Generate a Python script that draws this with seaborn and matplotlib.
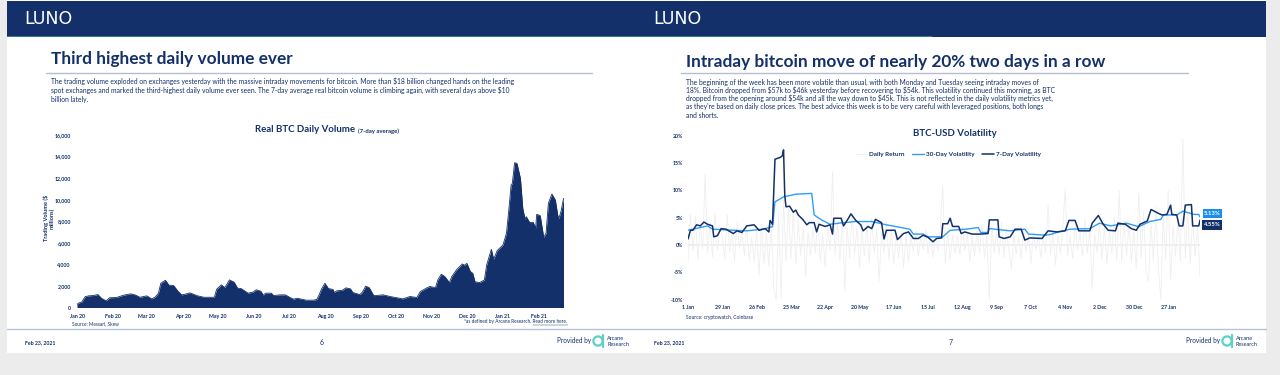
import pandas as pd
import matplotlib.pyplot as plt
import seaborn as sns
from matplotlib.patches import Circle, Rectangle

# Real BTC daily volume, days counted from 1 Jan 2020
volume_days = [0, 1, 4, 7, 10, 14, 18, 21, 25, 28, 34, 40, 46, 50, 54, 60, 64, 67, 70, 72, 76, 79, 83, 87, 90, 94, 97,
               103, 109, 118, 120, 124, 127, 131, 135, 138, 141, 147, 151, 154, 158, 160, 162, 167, 169, 174, 179,
               183, 186, 189, 193, 197, 203, 206, 208, 210, 213, 216, 220, 221, 223, 228, 231, 235, 237, 243, 245,
               248, 251, 255, 263, 269, 280, 286, 292, 295, 300, 303, 308, 310, 313, 316, 320, 322, 326, 331, 333,
               335, 338, 340, 342, 346, 350, 352, 356, 358, 361, 363, 366, 369, 371, 373, 374, 376, 378, 381, 383,
               385, 386, 389, 392, 394, 395, 398, 401, 403, 405, 408, 411, 413, 414, 416, 418]
volume_values = [250, 400, 500, 1000, 1080, 1110, 1200, 860, 620, 900, 930, 1140, 1265, 1170, 950, 1080, 800, 950,
                 1330, 2250, 2530, 2070, 2040, 1480, 1170, 1265, 1360, 1100, 950, 950, 1700, 2100, 1850, 2560, 2350,
                 1790, 1760, 1330, 1420, 1640, 1510, 1140, 1330, 1330, 1100, 1170, 1170, 930, 770, 860, 770, 680,
                 680, 740, 1170, 1700, 2250, 1760, 1670, 1390, 1540, 1600, 1820, 1730, 1390, 1200, 1390, 1975, 1850,
                 1100, 1170, 1020, 800, 1020, 930, 1480, 1790, 1945, 1850, 2560, 3085, 2870, 2315, 2870, 3490, 4040,
                 3920, 4100, 3330, 3180, 2380, 2315, 2560, 3950, 5400, 4475, 5280, 5490, 5800, 6880, 9040, 11360,
                 11500, 13430, 13370, 11975, 9200, 8180, 8430, 7870, 7900, 7350, 8640, 8520, 6510, 6880, 9660, 10525,
                 9970, 8580, 8240, 8980, 10120]
month_dates = ['2020-01-01', '2020-02-01', '2020-03-01', '2020-04-01', '2020-05-01', '2020-06-01', '2020-07-01',
               '2020-08-01', '2020-09-01', '2020-10-01', '2020-11-01', '2020-12-01', '2021-01-01', '2021-02-01']
month_labels = ['Jan 20', 'Feb 20', 'Mar 20', 'Apr 20', 'May 20', 'Jun 20', 'Jul 20', 'Aug 20', 'Sep 20', 'Oct 20',
                'Nov 20', 'Dec 20', 'Jan 21', 'Feb 21']
volume_ticks = [0, 2000, 4000, 6000, 8000, 10000, 12000, 14000, 16000]

# BTC-USD volatility in percent
seven_days = [0, 2, 4, 7, 10, 13, 16, 20, 21, 24, 27, 31, 37, 40, 44, 48, 54, 58, 63, 66, 67, 69, 71, 75, 77, 78, 79,
              80, 83, 86, 88, 90, 94, 97, 99, 103, 105, 107, 112, 116, 118, 119, 125, 127, 131, 133, 137, 141, 143,
              147, 150, 153, 158, 160, 162, 169, 171, 176, 180, 184, 188, 192, 196, 200, 203, 207, 208, 212, 214,
              216, 221, 223, 226, 232, 238, 245, 246, 253, 254, 258, 263, 267, 272, 275, 279, 289, 294, 301, 308,
              311, 316, 319, 328, 330, 335, 339, 343, 349, 351, 357, 362, 366, 369, 375, 378, 384, 387, 391, 394,
              395, 399, 401, 404, 406, 411, 412, 417, 418]
seven_values = [1.1, 2.7, 2.7, 3.7, 3.5, 4.2, 3.8, 3.5, 1.5, 1.7, 3.0, 2.9, 2.1, 2.6, 2.3, 3.5, 3.7, 2.7, 3.0, 2.4,
                4.5, 3.8, 15.7, 16.0, 16.3, 17.4, 9.1, 7.0, 7.1, 6.0, 6.4, 5.5, 4.6, 3.7, 4.1, 4.1, 2.4, 3.8, 3.4,
                3.7, 2.0, 4.9, 4.9, 3.5, 4.9, 5.7, 4.5, 3.7, 2.6, 3.4, 3.0, 4.7, 4.1, 1.1, 2.7, 2.7, 1.0, 2.1, 2.4,
                1.2, 1.2, 1.8, 1.4, 0.6, 1.2, 1.3, 3.9, 3.9, 4.9, 3.4, 3.4, 2.1, 2.4, 2.0, 2.0, 2.1, 4.6, 4.6, 1.5,
                1.2, 1.5, 2.9, 2.9, 0.9, 1.3, 1.2, 2.6, 2.4, 2.6, 4.5, 4.5, 2.6, 2.6, 4.0, 5.4, 3.8, 2.7, 2.6, 4.0,
                3.8, 3.0, 2.7, 3.8, 4.4, 6.5, 5.8, 5.5, 5.6, 7.3, 5.6, 5.5, 3.5, 3.5, 7.3, 7.4, 3.5, 3.5, 4.55]
thirty_days = [0, 10, 16, 20, 37, 48, 61, 69, 71, 78, 88, 101, 103, 109, 116, 127, 137, 150, 156, 162, 181, 184, 192,
               196, 208, 214, 227, 237, 239, 245, 246, 263, 275, 278, 292, 297, 301, 312, 328, 336, 345, 358, 368,
               377, 386, 388, 399, 404, 413, 417, 418]
thirty_values = [2.7, 3.2, 3.5, 2.9, 2.7, 2.6, 2.9, 3.35, 7.9, 8.8, 9.3, 9.45, 5.5, 4.6, 3.8, 4.1, 4.3, 4.3, 4.0, 3.7,
                 2.9, 2.0, 2.0, 1.5, 1.5, 2.7, 2.9, 3.2, 2.3, 2.3, 3.0, 2.6, 2.9, 2.0, 1.8, 2.0, 2.3, 2.9, 3.0, 4.0,
                 3.5, 4.0, 3.35, 4.3, 4.7, 5.5, 5.5, 6.2, 5.6, 5.6, 5.13]
# one reading every second day
daily_values = [-3.2, 5.6, -1.0, 5.2, -2.6, 3.8, -0.8, 13.0, -1.5, 4.2,
                -2.2, 5.8, -1.0, 3.0, 1.6, -2.6, 5.6, -1.2, 2.5, -3.0,
                4.0, -0.5, 2.2, -1.8, 3.2, -2.8, 1.5, -3.2, 2.6, -5.5,
                3.8, -3.5, 2.2, -4.0, 4.2, -8.0, -10.0, 6.0, -9.8, 8.2,
                -3.0, 7.5, -2.5, 6.0, -3.5, 4.5, -2.0, 3.5, -5.8, 2.5,
                -2.0, 3.2, -1.5, 5.0, -3.0, 2.0, -4.0, 3.5, -1.0, 13.4,
                -1.8, 4.2, -3.0, 5.0, -8.4, 3.2, -2.5, 6.0, -1.8, 3.5,
                -4.0, 2.8, -2.0, 4.2, -3.2, 5.0, -1.5, 3.0, -6.6, 2.2,
                -1.5, 4.6, -2.8, 3.0, -3.6, 1.8, -2.4, 2.6, -4.2, 2.0,
                -3.0, 1.6, -1.2, 2.4, -2.0, 1.5, -0.8, 2.8, -1.6, 1.2,
                -2.2, 1.4, -1.0, 3.0, 11.0, -3.5, 2.2, -2.6, 1.8, -1.4,
                1.6, -1.8, 3.5, -1.0, 2.0, -3.0, 1.4, -2.0, 2.6, -1.5,
                4.0, -2.4, 2.0, -10.0, 3.5, -1.5, 2.5, -1.8, 4.2, -2.2,
                3.0, -1.0, -4.3, 2.0, -1.6, 1.5, -2.5, 3.0, -1.2, 1.8,
                -3.5, 2.4, -1.0, 2.0, -2.2, 1.4, -1.5, 7.3, -1.8, 2.5,
                -3.6, 2.0, -1.5, 3.4, 10.4, -2.0, 1.6, -2.5, 3.6, -1.0,
                2.4, -2.0, 4.6, -1.5, 3.0, -8.0, 2.0, -1.4, 4.0, -2.6,
                3.2, -3.5, 2.4, -1.6, 5.2, -2.8, 10.0, -3.0, 4.4, -2.0,
                3.8, -3.2, 2.6, -4.4, 9.5, -2.4, 6.0, -5.0, -6.7, 4.0,
                -3.0, 7.0, -4.4, -10.0, 5.5, -2.6, 10.0, -6.4, 3.4, -2.0,
                4.8, -3.0, 19.5, -2.4, 6.0, -3.5, 5.0, -2.0, 3.5, -5.8]
vol_tick_dates = ['2020-01-01', '2020-01-29', '2020-02-26', '2020-03-25', '2020-04-22', '2020-05-20', '2020-06-17',
                  '2020-07-15', '2020-08-12', '2020-09-09', '2020-10-07', '2020-11-04', '2020-12-02', '2020-12-30',
                  '2021-01-27']
vol_tick_labels = ['1 Jan', '29 Jan', '26 Feb', '25 Mar', '22 Apr', '20 May', '17 Jun', '15 Jul', '12 Aug', '9 Sep',
                   '7 Oct', '4 Nov', '2 Dec', '30 Dec', '27 Jan']
pct_ticks = [-10, -5, 0, 5, 10, 15, 20]

NAVY = '#14306a'
BLUE = '#2f9df4'
PALE = '#efefef'
W, H = 1280, 375
START = pd.Timestamp('2020-01-01')


def to_dates(days):
    return START + pd.to_timedelta(days, unit='D')


def chart_axes(left, right, top, bottom):
    # axes from pixel edges, y counted from the top of the picture
    ax = fig.add_axes([left / W, 1 - bottom / H, (right - left) / W, (bottom - top) / H])
    ax.patch.set_alpha(0)
    sns.despine(ax=ax, left=True, bottom=True)
    ax.tick_params(length=0, labelsize=3.8, labelcolor=NAVY)
    return ax


def label(x, y, s, size, **kw):
    # dollar signs in the slide text are plain characters
    bg.text(x, y, s, color=kw.pop('color', NAVY), fontsize=size, va='center', parse_math=False, **kw)


sns.set_theme(style='white')
plt.rcParams['font.family'] = ['Lato', 'DejaVu Sans']
fig = plt.figure(figsize=(W / 100, H / 100), dpi=100, facecolor='#ececec')

# slide furniture is drawn on one pixel-sized background axes
bg = fig.add_axes([0, 0, 1, 1])
bg.set_xlim(0, W)
bg.set_ylim(H, 0)
bg.axis('off')
bg.add_patch(Rectangle((7, 0), 1259, 353, color='white', lw=0))
bg.add_patch(Rectangle((7, 1), 1259, 36, color=NAVY, lw=0))
bg.add_patch(Rectangle((7, 36), 925, 1, color='#2f7f96', lw=0))
bg.plot([46, 592], [73, 73], color='#b4bdd4', lw=1)
bg.plot([681, 1188], [73, 73], color='#b4bdd4', lw=1)
bg.plot([7, 1266], [329, 329], color='#b4c2da', lw=1)

for x in [24, 653]:
    label(x, 18.5, 'LUNO', 12.5, color='white', family='DejaVu Sans')

label(51, 59, 'Third highest daily volume ever', 12.4, weight='bold')
label(686, 61.5, 'Intraday bitcoin move of nearly 20% two days in a row', 12.4, weight='bold')

left_body = ['The trading volume exploded on exchanges yesterday with the massive intraday movements for bitcoin. More than $18 billion changed hands on the leading',
             'spot exchanges and marked the third-highest daily volume ever seen. The 7-day average real bitcoin volume is climbing again, with several days above $10',
             'billion lately.']
right_body = ['The beginning of the week has been more volatile than usual, with both Monday and Tuesday seeing intraday moves of',
              '18%. Bitcoin dropped from $57k to $46k yesterday before recovering to $54k. This volatility continued this morning, as BTC',
              'dropped from the opening around $54k and all the way down to $45k. This is not reflected in the daily volatility metrics yet,',
              "as they're based on daily close prices. The best advice this week is to be very careful with leveraged positions, both longs",
              'and shorts.']
for i, line in enumerate(left_body):
    label(51, 81 + i * 9.3, line, 4.9)
for i, line in enumerate(right_body):
    label(686, 82 + i * 8.3, line, 4.9)

# footers
label(25, 342.5, 'Feb 23, 2021', 3.8, weight='bold')
label(654, 342.5, 'Feb 23, 2021', 3.8, weight='bold')
label(322, 342.5, '6', 5, ha='center')
label(951, 342.5, '7', 5, ha='center')
for x in [557, 1186]:
    label(x, 341, 'Provided by', 4.7)
    bg.add_patch(Circle((x + 41, 341), 4.6, fill=False, ec='#5fd0c5', lw=1.6))
    bg.plot([x + 46, x + 46], [335, 347], color='#5fd0c5', lw=1.6)
    label(x + 50, 338, 'Arcane', 4.0)
    label(x + 50, 344.5, 'Research', 4.0)

# left chart
ax1 = chart_axes(77, 563.5, 135, 307.5)
volume = pd.DataFrame({'date': to_dates(volume_days), 'value': volume_values})
sns.lineplot(data=volume, x='date', y='value', color=NAVY, lw=0.6, estimator=None, ax=ax1)
ax1.fill_between(volume['date'], volume['value'], 0, color=NAVY, lw=0)
ax1.set_xlim(START, to_dates(418))
ax1.set_ylim(0, 16000)
ax1.set_xticks(pd.to_datetime(month_dates), month_labels, fontweight='bold')
ax1.set_yticks(volume_ticks, [f'{v:,}' for v in volume_ticks], fontweight='bold')
ax1.tick_params(axis='x', pad=4.5)
ax1.tick_params(axis='y', pad=4.5)
ax1.set_xlabel('')
ax1.set_ylabel('')
label(255, 130, 'Real BTC Daily Volume', 6.9, weight='bold')
label(358, 131, '(7-day average)', 4.3, weight='bold')
label(49, 218, 'Trading Volume ($\nmillions)', 4.1, weight='bold', rotation=90, ha='center', linespacing=1.0,
      multialignment='center')
label(72, 324, 'Source: Messari, Skew', 3.45)
label(464, 322, '*as defined by Arcane Research. Read more here.', 3.45)
bg.plot([533, 568], [324.5, 324.5], color=NAVY, lw=0.3)

# right chart
ax2 = chart_axes(688, 1200, 135.7, 299.7)
daily = pd.DataFrame({'date': to_dates(list(range(0, 419, 2))), 'value': daily_values})
thirty = pd.DataFrame({'date': to_dates(thirty_days), 'value': thirty_values})
seven = pd.DataFrame({'date': to_dates(seven_days), 'value': seven_values})
sns.lineplot(data=daily, x='date', y='value', color=PALE, lw=0.6, estimator=None, label='Daily Return', ax=ax2)
ax2.axhline(0, color='#e9edf5', lw=1.2, zorder=1)
sns.lineplot(data=thirty, x='date', y='value', color=BLUE, lw=1.0, estimator=None, label='30-Day Volatility', ax=ax2)
sns.lineplot(data=seven, x='date', y='value', color=NAVY, lw=1.1, estimator=None, label='7-Day Volatility', ax=ax2)
ax2.set_xlim(START, to_dates(418))
ax2.set_ylim(-10, 20)
ax2.set_xticks(pd.to_datetime(vol_tick_dates), vol_tick_labels, fontweight='bold')
ax2.set_yticks(pct_ticks, [f'{v}%' for v in pct_ticks], fontweight='bold')
ax2.tick_params(axis='x', pad=3.5)
ax2.tick_params(axis='y', pad=3.5)
ax2.set_xlabel('')
ax2.set_ylabel('')
leg = ax2.legend(loc='center', bbox_to_anchor=(0.508, 0.888), ncol=3, frameon=False, fontsize=4.55,
                 handlelength=1.9, columnspacing=1.1, handletextpad=0.4, borderpad=0)
for t in leg.get_texts():
    t.set_color(NAVY)
    t.set_fontweight('bold')
label(913, 134, 'BTC-USD Volatility', 6.95, weight='bold')
label(686, 318, 'Source: cryptowatch, Coinbase', 3.5)

# end-of-line value tags
bg.add_patch(Rectangle((1203, 209), 19, 9, color='#1b8fee', lw=0))
bg.add_patch(Rectangle((1202, 220), 20, 9.5, color=NAVY, lw=0))
label(1212.5, 213.5, '5.13%', 4.3, color='white', weight='bold', ha='center')
label(1212, 224.8, '4.55%', 4.3, color='white', weight='bold', ha='center')

fig.savefig('out.png', dpi=100, facecolor=fig.get_facecolor())
plt.close()
